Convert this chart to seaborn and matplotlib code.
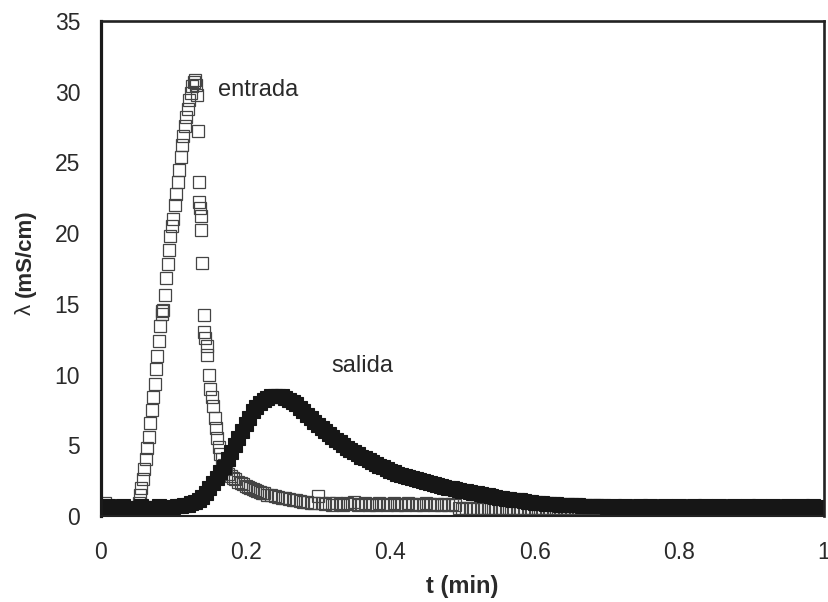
import numpy as np
import pandas as pd
import matplotlib
matplotlib.use("Agg")
import matplotlib.pyplot as plt
import seaborn as sns

# ---------------- data ----------------
STEP = 0.005

# salida: sampled every 0.005 min from t = 0
salida_v = [
    0.6, 0.5, 0.7, 0.6, 0.5, 0.6, 0.7, 0.5, 0.6, 0.6,
    0.5, 0.7, 0.6, 0.6, 0.5, 0.6, 0.7, 0.6, 0.6, 0.6,
    0.65, 0.7, 0.7, 0.75, 0.8, 0.9, 1.0, 1.15, 1.35, 1.65,
    2.0, 2.35, 2.7, 3.1, 3.5, 4.0, 4.5, 5.0, 5.5, 6.0,
    6.5, 6.95, 7.4, 7.7, 8.0, 8.2, 8.35, 8.45, 8.5, 8.5,
    8.45, 8.35, 8.2, 8.05, 7.9, 7.65, 7.4, 7.15, 6.9, 6.65,
    6.4, 6.2, 6.0, 5.8, 5.6, 5.4, 5.2, 5.0, 4.8, 4.65,
    4.5, 4.35, 4.2, 4.07, 3.95, 3.82, 3.7, 3.57, 3.45, 3.32,
    3.2, 3.1, 3.0, 2.92, 2.85, 2.77, 2.7, 2.62, 2.55, 2.47,
    2.4, 2.32, 2.25, 2.17, 2.1, 2.05, 2.0, 1.95, 1.9, 1.85,
    1.8, 1.75, 1.7, 1.65, 1.6, 1.55, 1.5, 1.45, 1.4, 1.35,
    1.3, 1.25, 1.2, 1.17, 1.15, 1.12, 1.1, 1.05, 1.0, 0.97,
    0.95, 0.92, 0.9, 0.87, 0.85, 0.83, 0.82, 0.8, 0.8, 0.78,
    0.77, 0.75, 0.75, 0.73, 0.72, 0.7, 0.7, 0.7, 0.68, 0.68,
    0.67, 0.6, 0.7, 0.6, 0.65, 0.7, 0.6, 0.65, 0.6, 0.7,
    0.65, 0.6, 0.7, 0.6, 0.65, 0.6, 0.7, 0.65, 0.6, 0.65,
    0.7, 0.6, 0.65, 0.6, 0.7, 0.6, 0.65, 0.7, 0.6, 0.65,
    0.6, 0.7, 0.65, 0.6, 0.65, 0.7, 0.6, 0.65, 0.6, 0.7,
    0.65, 0.6, 0.7, 0.6, 0.65, 0.6, 0.7, 0.65, 0.6, 0.65,
    0.7, 0.6, 0.65, 0.6, 0.7, 0.6, 0.65, 0.7, 0.6, 0.65,
    0.6,
]

# entrada: baseline before the pulse (every 0.005 min from t = 0)
entrada_pre_v = [0.6, 0.9, 0.5, 0.6, 0.7, 0.5, 0.6, 0.6, 0.5, 0.6]

# entrada: the pulse itself
entrada_pulse_t = [
    0.050, 0.052, 0.054, 0.056, 0.058, 0.060, 0.062, 0.064, 0.066, 0.068,
    0.070, 0.072, 0.074, 0.076, 0.078, 0.080, 0.082, 0.084, 0.085, 0.086,
    0.088, 0.090, 0.092, 0.094, 0.096, 0.098, 0.100, 0.102, 0.104, 0.106,
    0.108, 0.110, 0.112, 0.114, 0.116, 0.118, 0.120, 0.122, 0.124, 0.126,
    0.128, 0.130, 0.132, 0.133, 0.134, 0.135, 0.136, 0.137, 0.138, 0.139,
    0.140, 0.142, 0.143, 0.144, 0.146, 0.147, 0.149, 0.151, 0.153, 0.155,
    0.157, 0.159, 0.161, 0.163, 0.165, 0.167, 0.170, 0.173, 0.176, 0.180,
    0.183, 0.186, 0.190, 0.193, 0.196, 0.200, 0.203, 0.206, 0.210, 0.213,
    0.216, 0.220, 0.223, 0.226, 0.230, 0.235, 0.240, 0.245, 0.250, 0.255,
    0.260, 0.265, 0.270, 0.275, 0.280,
]
entrada_pulse_v = [
    0.6, 0.9, 1.5, 2.0, 2.6, 3.3, 4.0, 4.8, 5.6, 6.6,
    7.5, 8.4, 9.3, 10.4, 11.3, 12.4, 13.4, 14.3, 14.5, 14.6,
    15.6, 16.8, 17.8, 18.8, 19.8, 20.5, 21.0, 22.0, 22.8, 23.6,
    24.5, 25.4, 26.2, 26.9, 27.6, 28.2, 28.8, 29.4, 29.9, 30.4,
    30.7, 30.8, 30.5, 29.8, 27.2, 23.6, 22.2, 21.8, 21.2, 20.2,
    17.9, 14.2, 13.0, 12.6, 12.0, 11.4, 10.0, 9.0, 8.4, 7.8,
    6.9, 6.2, 5.5, 4.9, 4.4, 4.0, 3.6, 3.3, 3.0, 2.8,
    2.7, 2.6, 2.4, 2.3, 2.25, 2.1, 2.05, 2.0, 1.9, 1.85,
    1.8, 1.7, 1.65, 1.6, 1.5, 1.45, 1.4, 1.35, 1.3, 1.25,
    1.2, 1.15, 1.1, 1.05, 1.0,
]

# entrada: tail, every 0.005 min from t = 0.285
entrada_tail_v = [
    1.0, 0.95, 0.9, 1.4, 0.9, 0.85, 0.9, 0.8, 0.9, 0.85,
    0.8, 0.9, 0.85, 1.0, 0.8, 0.85, 0.9, 0.8, 0.85, 0.8,
    0.9, 0.85, 0.8, 0.85, 0.9, 0.8, 0.85, 0.8, 0.9, 0.85,
    0.8, 0.85, 0.8, 0.9, 0.85, 0.8, 0.85, 0.8, 0.85, 0.8,
    0.85, 0.8,
]
# entrada: late baseline, every 0.005 min from t = 0.495
entrada_late_v = [
    0.55, 0.5, 0.55, 0.6, 0.5, 0.55, 0.5, 0.6, 0.55, 0.5,
    0.55, 0.6, 0.5, 0.55, 0.5, 0.55, 0.6, 0.5, 0.55, 0.5,
    0.6, 0.55, 0.5, 0.55, 0.6, 0.5, 0.55, 0.5, 0.55, 0.6,
    0.5, 0.55, 0.5, 0.6, 0.55, 0.5, 0.55, 0.6, 0.5, 0.55,
    0.5, 0.55, 0.6, 0.5, 0.55, 0.5, 0.6, 0.55, 0.5, 0.55,
    0.6, 0.5, 0.55, 0.5, 0.55, 0.6, 0.5, 0.55, 0.5, 0.6,
    0.55, 0.5, 0.55, 0.6, 0.5, 0.55, 0.5, 0.55, 0.6, 0.5,
    0.35, 0.5, 0.55, 0.6, 0.5, 0.55, 0.5, 0.6, 0.55, 0.5,
    0.55, 0.6, 0.5, 0.55, 0.5, 0.55, 0.6, 0.5, 0.55, 0.5,
    0.6, 0.55, 0.5, 0.55, 0.6, 0.5, 0.55, 0.5, 0.55, 0.6,
    0.5, 0.55,
]

xticks = [0, 0.2, 0.4, 0.6, 0.8, 1.0]
xtick_labels = ["0", "0.2", "0.4", "0.6", "0.8", "1"]
yticks = [0, 5, 10, 15, 20, 25, 30, 35]

# ---------------- assemble ----------------
salida_t = np.round(np.arange(len(salida_v)) * STEP, 4)
ent_t = np.concatenate([
    np.arange(len(entrada_pre_v)) * STEP,
    np.array(entrada_pulse_t),
    0.285 + np.arange(len(entrada_tail_v)) * STEP,
    0.495 + np.arange(len(entrada_late_v)) * STEP,
])
ent_v = np.concatenate([entrada_pre_v, entrada_pulse_v, entrada_tail_v, entrada_late_v])

df_e = pd.DataFrame({"t": ent_t, "v": ent_v})
df_s = pd.DataFrame({"t": salida_t, "v": salida_v})

# ---------------- plot ----------------
sns.set_theme(style="white")
plt.rcParams["font.family"] = ["Liberation Sans", "DejaVu Sans"]

fig = plt.figure(figsize=(8.29, 6.02), dpi=100)
ax = fig.add_axes([101 / 829, 1 - 516 / 602, (824 - 101) / 829, (516 - 21) / 602])

sns.lineplot(data=df_e, x="t", y="v", ax=ax, estimator=None, sort=False,
             linestyle="none", marker="s", markersize=9.2,
             markerfacecolor="none", markeredgecolor="#444444",
             markeredgewidth=0.9)
sns.lineplot(data=df_s, x="t", y="v", ax=ax, estimator=None, sort=False,
             linestyle="none", marker="s", markersize=9.6,
             markerfacecolor="#161616", markeredgecolor="#161616",
             markeredgewidth=0.8)

ax.set_xlim(0, 1)
ax.set_ylim(0, 35)
ax.set_xticks(xticks)
ax.set_xticklabels(xtick_labels)
ax.set_yticks(yticks)

tc = "#2a2a2a"
ax.tick_params(axis="both", which="major", direction="out", length=5, width=1,
               color="#8a8a8a", labelsize=16.5, labelcolor=tc)
ax.tick_params(axis="x", pad=13)
ax.tick_params(axis="y", pad=10)

for side in ["top", "right"]:
    ax.spines[side].set_visible(True)
    ax.spines[side].set_linewidth(1.9)
    ax.spines[side].set_color("#222222")
ax.spines["left"].set_linewidth(2.3)
ax.spines["left"].set_color("#1a1a1a")
ax.spines["bottom"].set_linewidth(1.5)
ax.spines["bottom"].set_color("#222222")

ax.set_xlabel("t (min)", fontsize=17, fontweight="bold", color=tc, labelpad=8)
ax.set_ylabel("")

fig.text(25 / 829, 1 - 309 / 602, "λ", rotation=90, ha="center", va="center",
         fontsize=16, color=tc)
fig.text(25 / 829, 1 - 253 / 602, "(mS/cm)", rotation=90, ha="center", va="center",
         fontsize=16, fontweight="bold", color=tc)

ax.text(0.162, 30.1, "entrada", ha="left", va="center", fontsize=17, color=tc)
ax.text(0.362, 10.6, "salida", ha="center", va="center", fontsize=17, color=tc)

fig.savefig("out.png", dpi=100)
